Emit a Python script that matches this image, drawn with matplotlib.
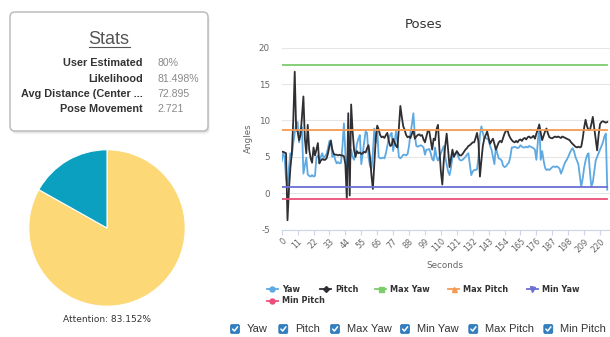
import numpy as np
import matplotlib
matplotlib.use("Agg")
import matplotlib.pyplot as plt
from matplotlib.patches import FancyBboxPatch

W, H = 610, 337

# ---------------- data ----------------
pitch = [5.7, 5.7, 5.6, 5.5, -3.7, 0.5, 3.5, 5.5, 10.0, 16.7,
         8.7, 8.5, 7.3, 8.0, 10.5, 13.3, 7.5, 5.5, 9.4, 6.0,
         4.8, 4.2, 6.3, 5.2, 6.0, 6.9, 4.1, 4.5, 4.7, 4.6,
         4.6, 4.8, 5.5, 6.5, 7.2, 6.0, 5.4, 5.3, 5.3, 5.2,
         5.3, 5.2, 5.2, 5.1, 4.0, -0.8, 11.0, -0.3, 12.2, 8.5,
         6.0, 5.0, 5.8, 5.5, 5.6, 5.4, 5.5, 5.7, 5.6, 6.2,
         6.6, 5.0, 2.5, 0.6, 4.0, 7.5, 9.3, 8.8, 8.0, 7.7,
         7.8, 7.6, 8.0, 8.3, 7.2, 6.5, 6.6, 7.5, 7.0, 6.5,
         6.3, 9.0, 12.0, 10.5, 9.2, 8.7, 8.0, 7.7, 7.8, 7.6,
         8.2, 8.7, 7.5, 7.8, 8.0, 8.1, 7.9, 8.0, 7.4, 7.0,
         7.8, 8.6, 8.5, 7.2, 6.0, 7.5, 7.3, 8.8, 9.4, 6.0,
         3.0, 1.2, 4.5, 6.5, 8.2, 6.0, 3.6, 4.8, 6.0, 5.0,
         5.4, 5.8, 5.5, 5.2, 5.2, 5.4, 5.7, 6.0, 6.2, 6.5,
         6.6, 6.8, 7.0, 7.0, 7.6, 8.3, 7.0, 2.3, 4.5, 6.5,
         7.5, 8.0, 8.5, 7.6, 6.8, 7.2, 7.5, 6.8, 6.0, 6.5,
         7.0, 7.2, 7.0, 7.6, 8.2, 8.6, 8.7, 8.0, 7.6, 7.3,
         7.1, 7.0, 7.2, 7.0, 7.3, 7.4, 7.2, 7.5, 7.6, 7.4,
         7.7, 7.8, 7.6, 7.7, 7.9, 7.5, 8.2, 8.8, 9.4, 8.3,
         7.3, 7.9, 8.5, 8.9, 8.2, 7.7, 7.6, 7.55, 7.7, 7.8,
         7.7, 7.8, 7.7, 7.6, 7.8, 7.7, 7.6, 7.5, 7.4, 7.3,
         7.0, 6.8, 6.6, 6.4, 6.3, 6.4, 6.3, 6.4, 7.5, 9.0,
         10.1, 9.2, 8.7, 8.7, 9.5, 10.5, 9.0, 7.5, 5.9, 8.0,
         9.5, 9.8, 9.9, 9.8, 9.7, 9.8]

yaw = [4.4, 5.5, 5.0, 2.0, 0.9, 3.5, 5.5, 5.2, 6.9, 8.3,
       9.6, 9.8, 7.0, 8.6, 9.1, 2.7, 3.8, 4.9, 2.6, 2.4,
       2.3, 2.5, 2.3, 2.4, 4.9, 5.2, 4.5, 5.0, 5.5, 4.8,
       5.1, 5.4, 6.2, 7.2, 7.3, 5.0, 5.4, 4.6, 4.1, 4.3,
       4.1, 4.2, 6.5, 9.6, 5.5, 3.5, 5.0, 4.0, 6.0, 5.0,
       4.6, 5.5, 6.8, 7.5, 8.0, 4.0, 5.5, 7.0, 8.5, 8.3,
       5.0, 3.8, 3.3, 5.5, 8.9, 6.9, 9.0, 5.0, 4.8, 4.8,
       4.9, 4.8, 5.5, 6.5, 7.5, 8.0, 8.3, 5.8, 7.0, 8.5,
       7.0, 5.0, 4.8, 5.0, 5.3, 5.3, 5.2, 5.4, 6.5, 8.3,
       9.5, 11.0, 8.0, 6.5, 6.4, 6.5, 6.6, 6.5, 6.3, 5.3,
       6.0, 6.0, 6.1, 5.5, 4.7, 4.5, 6.3, 5.0, 4.5, 5.0,
       5.5, 6.0, 6.5, 5.0, 4.0, 3.0, 2.5, 3.5, 5.0, 5.3,
       5.5, 5.6, 5.0, 4.6, 4.5, 4.6, 4.8, 5.0, 5.3, 5.5,
       4.0, 2.5, 3.0, 3.2, 3.2, 3.3, 5.0, 8.0, 9.2, 8.3,
       7.5, 7.6, 7.5, 7.3, 6.5, 6.0, 5.0, 4.0, 6.4, 5.5,
       4.8, 4.7, 4.5, 3.8, 3.6, 3.7, 4.0, 4.2, 5.0, 6.3,
       6.3, 6.4, 6.3, 6.2, 6.3, 6.6, 6.4, 6.3, 6.3, 6.4,
       6.3, 6.5, 6.4, 6.3, 6.2, 6.0, 4.6, 7.0, 9.5, 4.6,
       5.8, 4.5, 3.5, 3.2, 3.3, 3.2, 3.4, 3.6, 3.7, 3.6,
       3.7, 3.6, 3.4, 2.7, 3.2, 3.8, 4.3, 4.6, 5.0, 5.5,
       5.9, 6.2, 5.8, 5.0, 4.5, 4.0, 2.5, 0.9, 2.0, 3.5,
       4.5, 5.2, 5.5, 3.0, 0.9, 1.5, 3.0, 4.5, 5.0, 5.5,
       6.0, 6.5, 7.0, 7.8, 8.2, 0.5]

max_yaw = 17.6
max_pitch = 8.7
min_yaw = 0.9
min_pitch = -0.8

x_ticks = list(range(0, 221, 11))
y_ticks = [-5, 0, 5, 10, 15, 20]

stat_labels = ["User Estimated", "Likelihood", "Avg Distance (Center ...", "Pose Movement"]
stat_values = ["80%", "81.498%", "72.895", "2.721"]

attention = 83.152
pie_values = [attention, 100 - attention]

series_names = ["Yaw", "Pitch", "Max Yaw", "Max Pitch", "Min Yaw", "Min Pitch"]
toggle_names = ["Yaw", "Pitch", "Max Yaw", "Min Yaw", "Max Pitch", "Min Pitch"]

# ---------------- styles ----------------
colors = {
    "Yaw": "#5ea9e2",
    "Pitch": "#2e2e33",
    "Max Yaw": "#7ccd6c",
    "Max Pitch": "#f39a52",
    "Min Yaw": "#6c6fd4",
    "Min Pitch": "#ec4f7a",
}
markers = {"Yaw": "o", "Pitch": "D", "Max Yaw": "s", "Max Pitch": "^",
           "Min Yaw": "v", "Min Pitch": "o"}
pie_colors = ["#fdd877", "#0ba0bf"]

fig = plt.figure(figsize=(W / 100, H / 100), dpi=100)

# overlay in pixel coordinates for the panel decorations
ov = fig.add_axes([0, 0, 1, 1])
ov.set_xlim(0, W)
ov.set_ylim(H, 0)
ov.axis("off")
ov.patch.set_alpha(0)

# ---------------- stats card ----------------
for i, a in enumerate([0.05, 0.04, 0.03]):
    ov.add_patch(FancyBboxPatch((10 + 1 + i * 0.5, 12 + 1.5 + i), 198, 119,
                                boxstyle="round,pad=0,rounding_size=5",
                                fc="#000000", ec="none", alpha=a, zorder=1))
ov.add_patch(FancyBboxPatch((10, 12), 198, 119,
                            boxstyle="round,pad=0,rounding_size=5",
                            fc="white", ec="#bdbdbd", lw=1.1, zorder=2))
ov.text(109, 39, "Stats", fontsize=13, family="Liberation Sans",
        color="#555555", ha="center", va="center", zorder=3)
ov.plot([88.5, 130], [47, 47], color="#555555", lw=0.8, zorder=3)
row_y = [62.7, 78.7, 94.3, 109.3]
for lab, val, yy in zip(stat_labels, stat_values, row_y):
    ov.text(142.7, yy, lab, fontsize=7.8, family="Liberation Sans",
            fontweight="bold", color="#333333", ha="right", va="center", zorder=3)
    ov.text(157.3, yy, val, fontsize=7.6, family="Liberation Sans",
            color="#8a8a8a", ha="left", va="center", zorder=3)

# ---------------- pie ----------------
pax = fig.add_axes([28 / W, 1 - 307 / H, 158 / W, 158 / H])
pax.pie(pie_values, colors=pie_colors, startangle=90, counterclock=False,
        wedgeprops=dict(edgecolor="white", linewidth=0.8))
pax.set_xlim(-1.01, 1.01)
pax.set_ylim(-1.01, 1.01)
pax.set_aspect("equal")
pax.axis("off")
ov.text(107, 319.5, f"Attention: {attention:.3f}%", fontsize=6.5,
        color="#333333", ha="center", va="center")

# ---------------- line chart ----------------
left_px, top_px, bottom_px = 281.7, 47.7, 229.7
ax = fig.add_axes([left_px / W, 1 - bottom_px / H, 1 - left_px / W,
                   (bottom_px - top_px) / H])
ax.patch.set_alpha(0)
xs_y = np.arange(len(yaw))
xs_p = np.arange(len(pitch))
ax.plot(xs_y, yaw, color=colors["Yaw"], lw=1.3, solid_joinstyle="round", zorder=3)
ax.plot(xs_p, pitch, color=colors["Pitch"], lw=1.3, solid_joinstyle="round", zorder=4)
for name, val in [("Max Yaw", max_yaw), ("Max Pitch", max_pitch),
                  ("Min Yaw", min_yaw), ("Min Pitch", min_pitch)]:
    ax.plot(xs_p, np.full(len(xs_p), val), color=colors[name], lw=1.3, zorder=5)

ax.set_xlim(0, (W - left_px) / 1.447)
ax.set_ylim(-5, 20)
for s in ["left", "right", "top"]:
    ax.spines[s].set_visible(False)
ax.spines["bottom"].set_color("#ccd6eb")
ax.spines["bottom"].set_linewidth(0.8)
ax.set_yticks(y_ticks)
ax.set_yticklabels([str(v) for v in y_ticks])
ax.yaxis.grid(True, color="#e6e6e6", lw=0.8)
ax.set_axisbelow(True)
ax.tick_params(axis="y", length=0, pad=8.5, labelsize=6.3, labelcolor="#666666")
ax.set_xticks(x_ticks)
ax.set_xticklabels([str(v) for v in x_ticks])
ax.tick_params(axis="x", length=3.6, width=0.8, color="#ccd6eb", pad=1.5,
               labelsize=5.8, labelcolor="#666666")
for lab in ax.get_xticklabels():
    lab.set_rotation(45)
    lab.set_ha("right")
    lab.set_va("top")
    lab.set_rotation_mode("anchor")

ov.text(424, 25, "Poses", fontsize=9.5, color="#333333", ha="center", va="center")
ov.text(248.3, 138.5, "Angles", fontsize=6.3, color="#666666", rotation=90,
        ha="center", va="center")
ov.text(445, 265, "Seconds", fontsize=6.3, color="#666666", ha="center", va="center")

# ---------------- legend ----------------
legend_pos = [(281.7, 289), (335, 289), (390, 289), (463.3, 289), (541.7, 289),
              (281.7, 300.5)]
for name, (tx, ty) in zip(series_names, legend_pos):
    c = colors[name]
    ov.plot([tx - 15, tx - 4], [ty, ty], color=c, lw=1.3)
    ms = 3.0 if markers[name] == "D" else 3.6
    ov.plot([tx - 9.5], [ty], marker=markers[name], ms=ms, color=c, mec=c)
    ov.text(tx, ty, name, fontsize=5.9, fontweight="bold", color="#333333",
            ha="left", va="center")

# ---------------- series toggles ----------------
toggle_x = [246.7, 295, 346.7, 416.7, 485, 560]
ty = 329
for name, tx in zip(toggle_names, toggle_x):
    cx = tx - 11.7
    ov.add_patch(FancyBboxPatch((cx - 4.5, ty - 4.5), 9, 9,
                                boxstyle="round,pad=0,rounding_size=1.5",
                                fc="#2f7fc2", ec="#2a70ad", lw=0.5))
    ov.plot([cx - 2.4, cx - 0.6, cx + 2.6], [ty + 0.1, ty + 2.0, ty - 2.2],
            color="white", lw=1.1, solid_capstyle="round", solid_joinstyle="round")
    ov.text(tx, ty, name, fontsize=8, family="Liberation Sans", color="#333333",
            ha="left", va="center")

fig.savefig("out.png", dpi=100)
